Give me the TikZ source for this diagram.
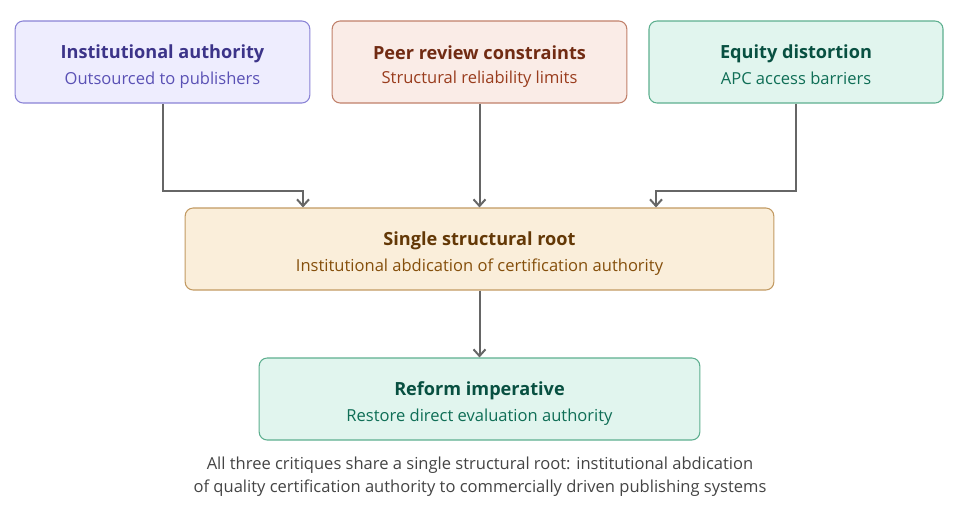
\documentclass[tikz,border=0pt]{standalone}
\usepackage{xcolor}
\usepackage{fontspec}
\setmainfont{Open Sans}
\usepackage{tikz}
\usetikzlibrary{arrows.meta}
\usetikzlibrary{calc}
\usetikzlibrary{positioning}

\definecolor{purpfill}{HTML}{EEEDFE}
\definecolor{purpline}{HTML}{8A83D6}
\definecolor{purptitle}{HTML}{3C3489}
\definecolor{purpsub}{HTML}{5A51B5}
\definecolor{coralfill}{HTML}{FAECE7}
\definecolor{coralline}{HTML}{C0806A}
\definecolor{coraltitle}{HTML}{712B13}
\definecolor{coralsub}{HTML}{993C1D}
\definecolor{tealfill}{HTML}{E1F5EE}
\definecolor{tealline}{HTML}{5DAF8F}
\definecolor{tealtitle}{HTML}{085041}
\definecolor{tealsub}{HTML}{0F6E56}
\definecolor{amberfill}{HTML}{FAEEDA}
\definecolor{amberline}{HTML}{C29A62}
\definecolor{ambertitle}{HTML}{633806}
\definecolor{ambersub}{HTML}{854F0B}
\definecolor{linkgray}{HTML}{666666}
\definecolor{notegray}{HTML}{444444}

\newcommand{\boxtitle}[2]{\textcolor{#1}{\rule{0pt}{18pt}\fontsize{13.6}{16}\selectfont\bfseries #2}}
\newcommand{\boxsub}[2]{\textcolor{#1}{\rule[-4pt]{0pt}{4pt}\fontsize{12.4}{15}\selectfont #2}}

\begin{document}
\begin{tikzpicture}[
    x=0.75pt, y=-0.75pt,
    box/.style={draw, line width=0.8pt, rounded corners=6pt,
      minimum height=61.5pt, align=center, inner sep=0pt},
    link/.style={draw=linkgray, line width=1.5pt,
      -{Straight Barb[length=5pt,width=9pt]}}]

    \useasboundingbox (0,0) rectangle (960,512);

    % top row
    \node [box, fill=purpfill, draw=purpline, minimum width=221pt]
    (inst) at (162.5,62)
    {\boxtitle{purptitle}{Institutional authority}\\[5.5pt]
     \boxsub{purpsub}{Outsourced to publishers}};

    \node [box, fill=coralfill, draw=coralline, minimum width=221pt]
    (peer) at (479.5,62)
    {\boxtitle{coraltitle}{Peer review constraints}\\[5.5pt]
     \boxsub{coralsub}{Structural reliability limits}};

    \node [box, fill=tealfill, draw=tealline, minimum width=220.5pt]
    (equity) at (796,62)
    {\boxtitle{tealtitle}{Equity distortion}\\[5.5pt]
     \boxsub{tealsub}{APC access barriers}};

    % root and reform
    \node [box, fill=amberfill, draw=amberline, minimum width=441.5pt]
    (root) at (479.5,249)
    {\boxtitle{ambertitle}{Single structural root}\\[5.5pt]
     \boxsub{ambersub}{Institutional abdication of certification authority}};

    \node [box, fill=tealfill, draw=tealline, minimum width=330.5pt]
    (reform) at (479.5,399)
    {\boxtitle{tealtitle}{Reform imperative}\\[5.5pt]
     \boxsub{tealsub}{Restore direct evaluation authority}};

    \node [align=center, text=notegray, font=\fontsize{12.4}{17.25}\selectfont]
    (note) at (480,477)
    {All three critiques share a single structural root: institutional abdication\\
     of quality certification authority to commercially driven publishing systems};

    % connectors
    \draw [link] (inst.south) -- ++(0,87) -| ($(root.north)+(-176.5,0)$);
    \draw [link] (peer.south) -- (root.north);
    \draw [link] (equity.south) -- ++(0,87) -| ($(root.north)+(176.5,0)$);
    \draw [link] (root.south) -- (reform.north);

  \end{tikzpicture}
\end{document}
